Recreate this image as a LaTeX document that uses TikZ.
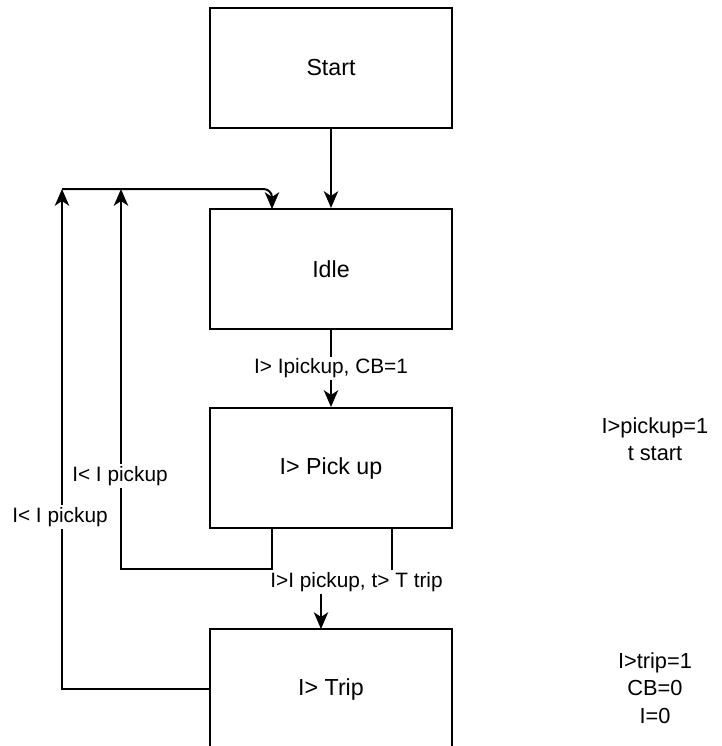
\documentclass[tikz,border=0pt]{standalone}
\usepackage{fontspec}
\setmainfont{Liberation Sans}
\usetikzlibrary{arrows.meta}
\tikzset{
  state/.style={draw, line width=1.42pt, minimum width=6.05cm, minimum height=3cm,
    font=\fontsize{16.5}{20}\selectfont},
  arr/.style={line width=1.42pt, -{Stealth[length=0.42cm,width=0.36cm,inset=0.12cm]}},
  lbl/.style={fill=white, inner sep=1.5pt, font=\fontsize{14.8}{18}\selectfont},
  note/.style={align=center, font=\fontsize{15.5}{19.5}\selectfont}
}
\begin{document}
\begin{tikzpicture}[x=0.025cm,y=-0.025cm]
\useasboundingbox (0,0) rectangle (722,746);
\node[state] (start) at (331,68) {Start};
\node[state] (idle) at (331,269) {Idle};
\node[state] (pickup) at (331,468) {I> Pick up};
\node[state] (trip) at (331,689) {I> Trip};
\coordinate (top) at (62,189);
\coordinate (i1) at (272,209);
\coordinate (p1) at (272,528);
\coordinate (p2) at (392,528);
\coordinate (t1) at (321,629);
\draw[arr] (start) -- (idle);
\draw[arr] (idle) -- node[lbl]{I> Ipickup, CB=1} (pickup);
\draw[arr] (p2) -- (392,582) -- node[lbl]{I>I pickup, t> T trip} (321,582) -- (t1);
\draw[arr] (p1) |- (121,569) -- (121,189);
\draw[arr] (trip.west) -| (top);
\draw[arr, rounded corners=6pt] (top) -| (i1);
\node[lbl] (back1) at (120,476) {I< I pickup};
\node[lbl] (back2) at (60,517) {I< I pickup};
\node[note] (pnote) at (655,439) {I>pickup=1\\t start};
\node[note] (tnote) at (655,688) {I>trip=1\\CB=0\\I=0};
\end{tikzpicture}
\end{document}
